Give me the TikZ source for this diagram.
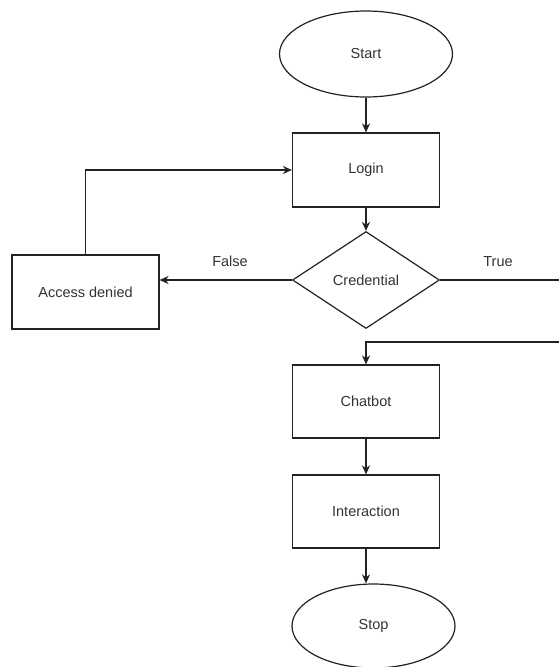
\documentclass[tikz,border=0pt]{standalone}
\usepackage{fontspec}
\setmainfont{Liberation Sans}
\usetikzlibrary{shapes.geometric,arrows.meta}
\definecolor{ln}{HTML}{222222}
\definecolor{tx}{HTML}{333333}
\tikzset{
  x=1pt, y=-1pt,
  base/.style={draw=ln, line width=1.2pt, fill=white, text=tx, font=\fontsize{14.5}{17}\selectfont, inner sep=0pt},
  procbox/.style={base, rectangle, minimum width=147pt, minimum height=74pt},
  termnode/.style={base, ellipse},
  decnode/.style={base, diamond, aspect=1.5, minimum width=147pt, minimum height=97pt},
  conn/.style={draw=ln, line width=1.2pt, -{Stealth[length=9pt,width=8pt]}},
  plainconn/.style={draw=ln, line width=1.2pt},
  lbl/.style={text=tx, font=\fontsize{14.5}{17}\selectfont, inner sep=0pt}
}
\begin{document}
\begin{tikzpicture}
\useasboundingbox (0,0) rectangle (558,667);
\fill[white] (0,0) rectangle (558,667);
\node[termnode, minimum width=173pt, minimum height=86pt] (start) at (366,54) {Start};
\node[procbox] (login) at (366,170) {Login};
\node[decnode] (cred) at (366,280) {Credential};
\node[procbox] (access) at (85.5,292) {Access denied};
\node[procbox, minimum height=73pt] (chat) at (366,401.5) {Chatbot};
\node[procbox, minimum height=73pt] (inter) at (366,511.5) {Interaction};
\node[termnode, minimum width=163pt, minimum height=84pt] (stop) at (373.5,626) {Stop};
\coordinate (trueend) at (560,280);
\coordinate (trueback) at (560,342);
\node[lbl] (falselbl) at (230,261) {False};
\node[lbl] (truelbl) at (498,262) {True};
\draw[conn] (start.south -| login.north) -- (login.north);
\draw[conn] (login.south) -- (cred.north);
\draw[conn] (cred.west) -- (cred.west -| access.east);
\draw[conn] (access.north) |- (login.west);
\draw[plainconn] (cred.east) -- (trueend);
\draw[conn] (trueback) -| (chat.north);
\draw[conn] (chat.south) -- (inter.north);
\draw[conn] (inter.south) -- (inter.south |- stop.north);
\end{tikzpicture}
\end{document}
